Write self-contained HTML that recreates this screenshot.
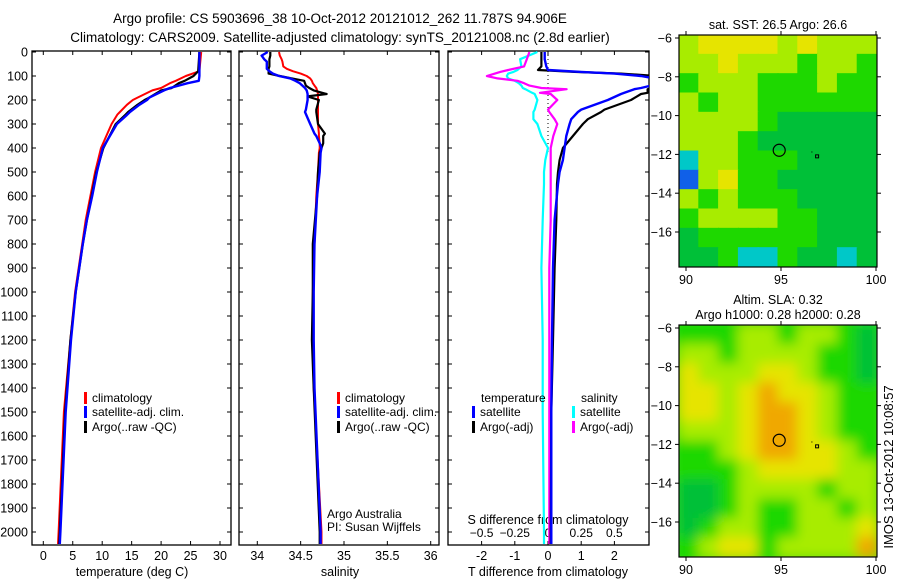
<!DOCTYPE html>
<html><head><meta charset="utf-8"><style>
body{margin:0;background:#fff;}
svg{display:block;font-family:"Liberation Sans",sans-serif;}
</style></head><body>
<svg id="fig" width="900" height="580" viewBox="0 0 900 580">
<rect width="900" height="580" fill="#fff"/>
<text x="340" y="23" font-size="13.5" text-anchor="middle">Argo profile: CS 5903696_38 10-Oct-2012 20121012_262 11.787S 94.906E</text>
<text x="340" y="42" font-size="13.5" text-anchor="middle">Climatology: CARS2009. Satellite-adjusted climatology: synTS_20121008.nc (2.8d earlier)</text>
<g id="g1"></g>
<g id="g2"></g>
<g id="g3"></g>
<g id="m1"></g>
<g id="m2"></g>
<text transform="translate(893,467) rotate(-90)" font-size="13" text-anchor="middle">IMOS 13-Oct-2012 10:08:57</text>
</svg>
<script>
// ---- data ----
const depthTicks = [0,100,200,300,400,500,600,700,800,900,1000,1100,1200,1300,1400,1500,1600,1700,1800,1900,2000];
const tDepth = [0,80,100,120,130,150,160,190,200,220,250,260,300,400,500,600,700,800,1000,1200,1500,2000,2050];
const tClim  = [26.8,26.5,24.2,22.5,21.5,20,18.5,16,15.2,14.2,13,12.6,11.6,9.8,8.8,8.0,7.2,6.6,5.4,4.6,3.5,2.6,2.5];
const tSat   = [26.5,26.5,26.5,26.4,24.5,21.5,20.5,18,17.6,16.3,14.7,14.3,12.5,10.1,9.1,8.3,7.4,6.7,5.5,4.7,3.8,2.9,2.8];
const tArgo  = [26.5,26.3,25.5,24,23,21.8,20,18,17.2,16,14.4,14,12.3,10.2,9.0,8.2,7.4,6.7,5.5,4.6,3.7,2.8,2.7];
const sDepth = [0,15,30,40,60,70,80,90,100,110,120,130,140,150,160,175,185,200,240,250,300,340,350,380,400,420,500,600,800,1000,1200,1400,2000,2050];
const sClim  = [34.25,34.26,34.28,34.29,34.30,34.34,34.41,34.50,34.57,34.61,34.63,34.64,34.66,34.68,34.69,34.70,34.70,34.70,34.70,34.70,34.70,34.71,34.71,34.72,34.72,34.71,34.70,34.68,34.66,34.64,34.64,34.65,34.74,34.74];
const sSat   = [34.12,34.05,34.08,34.11,34.11,34.11,34.14,34.18,34.25,34.38,34.44,34.49,34.52,34.55,34.57,34.58,34.58,34.58,34.56,34.55,34.61,34.66,34.68,34.72,34.74,34.73,34.72,34.69,34.66,34.65,34.65,34.66,34.73,34.73];
const sArgo  = [34.15,34.15,34.14,34.14,34.14,34.13,34.13,34.13,34.26,34.40,34.54,34.55,34.56,34.60,34.65,34.80,34.58,34.71,34.68,34.68,34.70,34.78,34.76,34.76,34.74,34.72,34.70,34.69,34.64,34.64,34.63,34.65,34.72,34.72];
const dDepth = [0,30,60,75,83,90,100,110,120,130,140,150,155,170,175,200,240,250,280,300,350,400,450,500,550,700,900,1200,1500,2000,2050];
const dTSat  = [-0.1,-0.1,-0.05,0,1.0,2.0,2.8,3.2,3.3,3.3,3.1,2.8,2.6,2.3,2.2,1.8,1.0,0.9,0.7,0.65,0.55,0.5,0.45,0.35,0.3,0.2,0.15,0.12,0.1,0.1,0.1];
const dTArgo = [-0.2,-0.2,-0.2,-0.3,0.8,2.2,3.3,3.4,3.4,3.3,3.5,3.2,3.0,3.0,2.8,2.5,1.7,1.6,1.2,1.05,0.75,0.45,0.35,0.3,0.27,0.25,0.2,0.15,0.1,0.08,0.08];
const dSSat  = [-0.08,-0.21,-0.2,-0.23,-0.26,-0.3,-0.31,-0.3,-0.25,-0.22,-0.2,-0.19,-0.17,-0.12,-0.1,-0.08,-0.1,-0.11,-0.11,-0.08,-0.05,0,-0.02,-0.03,-0.03,-0.04,-0.05,-0.04,-0.04,-0.03,-0.03];
const dSArgo = [-0.14,-0.16,-0.18,-0.3,-0.36,-0.4,-0.46,-0.38,-0.23,-0.18,-0.14,-0.05,0.14,-0.06,0.02,0.07,0.0,0.01,0.05,0.07,0.04,0.02,0.02,0.02,0.02,0.02,0.01,0.01,0.01,0.01,0.01];
const tTicks = [0,5,10,15,20,25,30];
const sTicks = [34,34.5,35,35.5,36];
const dtTicks = [-2,-1,0,1,2];
const dsTicks = [-0.5,-0.25,0,0.25,0.5];
const lonTicks = [90,95,100];
const latTicks = [-6,-8,-10,-12,-14,-16];
const sstGrid = ["LYYYYLYLLL","LLYLLLGLLG","GLLLGGGLGG","LGLLGGGGGG","LLLLGDDDDD","LLLGDDDDDD","CLLGGGDDDD","BLYGGDDDDD","LGLGGGDDDD","GLLLLGGDDD","DGGGGGGDDD","DDGCCGDDCD"];
const slaGrid = ["GGGLLGLLGD","LLGLLLLGGD","YLLLYYLGGD","YYLYOYYLGG","YYLYOOYLGG","LLLYOOYLGG","GGLYOOYYLG","GGGLYYYYLL","DDGLLLLGLL","DDGLGGLLGL","DGLLGGLLLY","GLYYGLLLLO"];
const profLon = 94.906, profLat = -11.787;

const NS = "http://www.w3.org/2000/svg";
function el(parent, tag, attrs, text){const e=document.createElementNS(NS,tag);for(const k in attrs)e.setAttribute(k,attrs[k]);if(text!==undefined)e.textContent=text;parent.appendChild(e);return e;}
const Y0=52, Ypx=0.24; // px per metre
const yD = d => Y0 + d*Ypx;
const PT=51, PB=545;

function frame(g,x0,x1){
  const r=el(g,'rect',{x:x0,y:PT,width:x1-x0,height:PB-PT,fill:'none',stroke:'#000','stroke-width':1.3});
  
  
  depthTicks.forEach(d=>{
    el(g,'line',{x1:x0,x2:x0+4,y1:yD(d),y2:yD(d),stroke:'#000'});
    el(g,'line',{x1:x1,x2:x1-4,y1:yD(d),y2:yD(d),stroke:'#000'});
  });
}
function line(g,xs,ds,xf,color,w,name){
  let p='';xs.forEach((v,i)=>{p+=(i?'L':'M')+xf(v).toFixed(1)+','+yD(ds[i]).toFixed(1);});
  const e=el(g,'path',{d:p,fill:'none',stroke:color,'stroke-width':w,'stroke-linejoin':'round'});
  
  
}
function legendItem(g,x,y,color,label,name){
  el(g,'rect',{x:x,y:y-10,width:3,height:12,fill:color});
  const t=el(g,'text',{x:x+8,y:y,'font-size':12},label);
  
  
}

// Panel 1: temperature
const g1=document.getElementById('g1');
const xT = t => 43.3 + t*5.89;
frame(g1,32,231);
depthTicks.forEach(d=>{const t=el(g1,'text',{x:28,y:yD(d)+4.5,'font-size':12.5,'text-anchor':'end'},String(d));});
tTicks.forEach(v=>{el(g1,'line',{x1:xT(v),x2:xT(v),y1:PB,y2:PB-4,stroke:'#000'});el(g1,'line',{x1:xT(v),x2:xT(v),y1:PT,y2:PT+4,stroke:'#000'});const t=el(g1,'text',{x:xT(v),y:560,'font-size':12.5,'text-anchor':'middle'},String(v));});
{const t=el(g1,'text',{x:132,y:576,'font-size':12.5,'text-anchor':'middle'},'temperature (deg C)');}
line(g1,tClim,tDepth,xT,'#ff0000',2,'temperature-climatology-line');
line(g1,tArgo,tDepth,xT,'#000000',2.2,'temperature-argo-line');
line(g1,tSat,tDepth,xT,'#0000ff',2.4,'temperature-satellite-line');
legendItem(g1,84,402,'#f00','climatology','legend-climatology');
legendItem(g1,84,416,'#00f','satellite-adj. clim.','legend-satellite-adj');
legendItem(g1,84,431,'#000','Argo(..raw -QC)','legend-argo');

// Panel 2: salinity
const g2=document.getElementById('g2');
const xS = s => 257.3 + (s-34)*86.7;
frame(g2,239,439);
sTicks.forEach(v=>{el(g2,'line',{x1:xS(v),x2:xS(v),y1:PB,y2:PB-4,stroke:'#000'});el(g2,'line',{x1:xS(v),x2:xS(v),y1:PT,y2:PT+4,stroke:'#000'});const t=el(g2,'text',{x:xS(v),y:560,'font-size':12.5,'text-anchor':'middle'},String(v));});
{const t=el(g2,'text',{x:340,y:576,'font-size':12.5,'text-anchor':'middle'},'salinity');}
line(g2,sClim,sDepth,xS,'#ff0000',2,'salinity-climatology-line');
line(g2,sArgo,sDepth,xS,'#000000',2.2,'salinity-argo-line');
line(g2,sSat,sDepth,xS,'#0000ff',2.4,'salinity-satellite-line');
legendItem(g2,337,402,'#f00','climatology','legend-climatology-2');
legendItem(g2,337,416,'#00f','satellite-adj. clim.','legend-satellite-adj-2');
legendItem(g2,337,431,'#000','Argo(..raw -QC)','legend-argo-2');
{const t=el(g2,'text',{x:327,y:518,'font-size':12},'Argo Australia');}
{const t=el(g2,'text',{x:327,y:531,'font-size':12},'PI: Susan Wijffels');}

// Panel 3: differences
const g3=document.getElementById('g3');
const x0d=448,x1d=649;
const xDT = t => 548 + t*33.2;
const xDS = s => xDT(s*4);
const cp=el(g3,'clipPath',{id:'c3'});el(cp,'rect',{x:x0d,y:PT,width:x1d-x0d,height:PB-PT});
frame(g3,x0d,x1d);
el(g3,'line',{x1:xDT(0),x2:xDT(0),y1:PT,y2:yD(420),stroke:'#000','stroke-dasharray':'1,3'});
dtTicks.forEach(v=>{el(g3,'line',{x1:xDT(v),x2:xDT(v),y1:PB,y2:PB-4,stroke:'#000'});const t=el(g3,'text',{x:xDT(v),y:560,'font-size':12.5,'text-anchor':'middle'},String(v));});
dsTicks.forEach(v=>{el(g3,'line',{x1:xDS(v),x2:xDS(v),y1:PT,y2:PT+4,stroke:'#000'});const t=el(g3,'text',{x:xDS(v),y:537,'font-size':12,'text-anchor':'middle'},String(v).replace('-','\u2212'));});
{const t=el(g3,'text',{x:548,y:576,'font-size':12.5,'text-anchor':'middle'},'T difference from climatology');}
{const t=el(g3,'text',{x:548,y:524,'font-size':12.5,'text-anchor':'middle'},'S difference from climatology');}
const gc=el(g3,'g',{'clip-path':'url(#c3)'});
line(gc,dSSat,dDepth,xDS,'#00ffff',2.2,'salinity-diff-satellite-line');
line(gc,dSArgo,dDepth,xDS,'#ff00ff',2.2,'salinity-diff-argo-line');
line(gc,dTArgo,dDepth,xDT,'#000000',2.2,'temperature-diff-argo-line');
line(gc,dTSat,dDepth,xDT,'#0000ff',2.4,'temperature-diff-satellite-line');
{const t=el(g3,'text',{x:481,y:402,'font-size':12},'temperature');}
{const t=el(g3,'text',{x:581,y:402,'font-size':12},'salinity');}
legendItem(g3,472,416,'#00f','satellite','legend-t-satellite');
legendItem(g3,472,431,'#000','Argo(-adj)','legend-t-argo');
legendItem(g3,572,416,'#0ff','satellite','legend-s-satellite');
legendItem(g3,572,431,'#f0f','Argo(-adj)','legend-s-argo');

// Maps
const COL={Y:'#e6e400',O:'#f0a800',L:'#a8ec00',G:'#1ed800',D:'#00c038',C:'#00c8c8',B:'#1060e8'};
function map(id,x0,x1,y0,y1,latTop,latBot,grid,title,blur){
  const g=document.getElementById(id);
  const lonX=l=>686+(l-90)*19.0;
  const latY=l=>latTop+(l+6)/(-10)*(latBot-latTop);
  const cid='clip'+id;
  const cp=el(g,'clipPath',{id:cid});el(cp,'rect',{x:x0,y:y0,width:x1-x0,height:y1-y0});
  if(blur){const f=el(g,'filter',{id:'bl'+id});el(f,'feGaussianBlur',{stdDeviation:blur});}
  const gg=el(g,'g',{'clip-path':'url(#'+cid+')'});
  const inner=el(gg,'g',blur?{filter:'url(#bl'+id+')'}:{});
  const rows=grid.length,cols=grid[0].length;
  const cw=(x1-x0)/cols,ch=(y1-y0)/rows;
  el(inner,'rect',{x:x0-10,y:y0-10,width:x1-x0+20,height:y1-y0+20,fill:COL.G});
  grid.forEach((r,i)=>{for(let j=0;j<cols;j++){
    const c=el(inner,'rect',{x:x0+j*cw-0.5,y:y0+i*ch-0.5,width:cw+1,height:ch+1,fill:COL[r[j]]});
    
    
  }});
  const fr=el(g,'rect',{x:x0,y:y0,width:x1-x0,height:y1-y0,fill:'none',stroke:'#000','stroke-width':1.2});
  
  
  lonTicks.forEach(l=>{el(g,'line',{x1:lonX(l),x2:lonX(l),y1:y0,y2:y0-4,stroke:'#000'});el(g,'line',{x1:lonX(l),x2:lonX(l),y1:y1,y2:y1+4,stroke:'#000'});const t=el(g,'text',{x:lonX(l),y:y1+17,'font-size':12.5,'text-anchor':'middle'},String(l));});
  latTicks.forEach(l=>{el(g,'line',{x1:x0,x2:x0-4,y1:latY(l),y2:latY(l),stroke:'#000'});el(g,'line',{x1:x1,x2:x1+4,y1:latY(l),y2:latY(l),stroke:'#000'});const t=el(g,'text',{x:x0-7,y:latY(l)+4.5,'font-size':12.5,'text-anchor':'end'},String(l).replace('-','\u2212'));});
  const c=el(g,'circle',{cx:lonX(profLon),cy:latY(profLat),r:6,fill:'none',stroke:'#000','stroke-width':1.2});
  
  
  el(g,'rect',{x:lonX(96.9)-1.5,y:latY(-12.1)-1.5,width:3,height:3,fill:'none',stroke:'#000','stroke-width':1});
  el(g,'rect',{x:lonX(96.6),y:latY(-11.85),width:1,height:1,fill:'#000'});
  title.forEach((tt,i)=>{const t=el(g,'text',{x:778,y:y0-(title.length-i)*15+9,'font-size':12.5,'text-anchor':'middle'},tt);});
}
map('m1',679,877,35,267,38,232,sstGrid,['sat. SST: 26.5 Argo: 26.6'],0);
map('m2',679,877,325,557,328,522,slaGrid,['Altim. SLA: 0.32','Argo h1000: 0.28 h2000: 0.28'],6);
</script>
</body></html>
